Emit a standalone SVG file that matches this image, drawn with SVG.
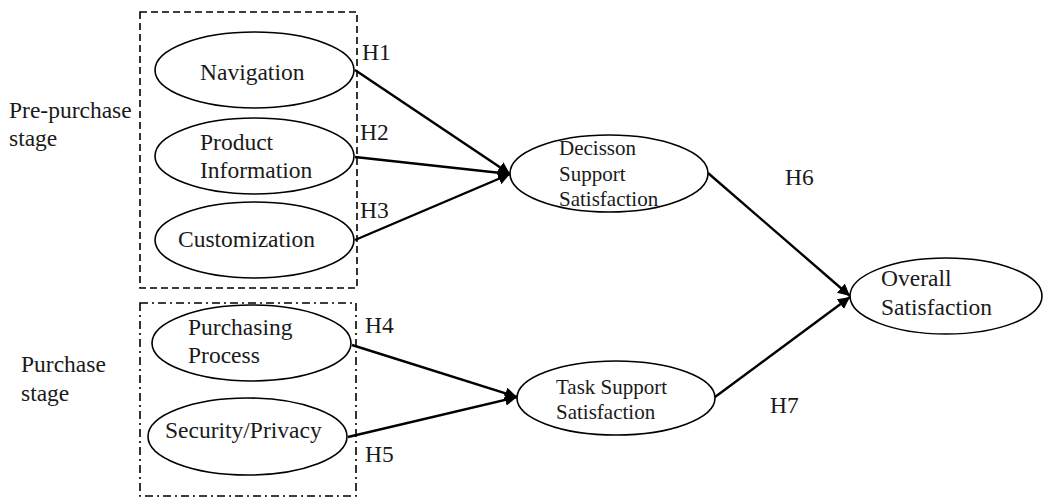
<svg xmlns="http://www.w3.org/2000/svg" width="1043" height="499" viewBox="0 0 1043 499">
  <style>
    .node ellipse { fill: #fff; stroke: #000; stroke-width: 1.6; }
    text { font-family: 'Liberation Serif', 'DejaVu Serif', serif; fill: #1a1a1a; }
    .t { font-size: 23.5px; }
    .s { font-size: 21px; }
    .edge { stroke: #000; stroke-width: 2.4; fill: none; marker-end: url(#arrow); }
    .stage { fill: none; stroke: #000; stroke-width: 1.6; }
  </style>
  <defs>
    <marker id="arrow" viewBox="0 0 10 10" refX="10" refY="5" markerWidth="5" markerHeight="5" orient="auto" markerUnits="strokeWidth">
      <path d="M0,0 L10,5 L0,10 z" fill="#000"/>
    </marker>
  </defs>
  <rect width="1043" height="499" fill="#fff"/>

  <!-- stage frames -->
  <g id="pre-purchase-stage">
    <rect class="stage" x="140" y="12" width="217" height="276" stroke-dasharray="7,4"/>
    <text class="t" x="9" y="118">Pre-purchase</text>
    <text class="t" x="9" y="146">stage</text>
  </g>
  <g id="purchase-stage">
    <rect class="stage" x="140" y="303" width="216" height="193" stroke-dasharray="8,4,2,4"/>
    <text class="t" x="21" y="372">Purchase</text>
    <text class="t" x="21" y="401">stage</text>
  </g>

  <!-- connectors -->
  <g id="connectors">
    <line class="edge" x1="355" y1="70" x2="510" y2="174"/>
    <line class="edge" x1="355" y1="157" x2="510" y2="174"/>
    <line class="edge" x1="355" y1="240" x2="510" y2="174"/>
    <line class="edge" x1="352" y1="345" x2="517" y2="397"/>
    <line class="edge" x1="348" y1="437" x2="517" y2="397"/>
    <line class="edge" x1="708" y1="173" x2="850" y2="296"/>
    <line class="edge" x1="715" y1="397" x2="850" y2="297"/>
    <text class="t" x="362" y="60">H1</text>
    <text class="t" x="360" y="140">H2</text>
    <text class="t" x="360" y="218">H3</text>
    <text class="t" x="365" y="333">H4</text>
    <text class="t" x="365" y="462">H5</text>
    <text class="t" x="785" y="185">H6</text>
    <text class="t" x="770" y="413">H7</text>
  </g>

  <!-- constructs -->
  <g id="navigation" class="node">
    <ellipse cx="254.5" cy="70" rx="99.5" ry="38"/>
    <text class="t" x="200" y="80">Navigation</text>
  </g>
  <g id="product-information" class="node">
    <ellipse cx="254.5" cy="156" rx="99.5" ry="38"/>
    <text class="t" x="200" y="150">Product</text>
    <text class="t" x="200" y="178">Information</text>
  </g>
  <g id="customization" class="node">
    <ellipse cx="254.5" cy="240" rx="99.5" ry="38"/>
    <text class="t" x="178" y="247">Customization</text>
  </g>
  <g id="purchasing-process" class="node">
    <ellipse cx="251.5" cy="343" rx="99.5" ry="38"/>
    <text class="t" x="188" y="335">Purchasing</text>
    <text class="t" x="188" y="363">Process</text>
  </g>
  <g id="security-privacy" class="node">
    <ellipse cx="247.5" cy="436.5" rx="99.5" ry="38.5"/>
    <text class="t" x="165" y="438">Security/Privacy</text>
  </g>
  <g id="decision-support-satisfaction" class="node">
    <ellipse cx="609" cy="173.5" rx="99" ry="38.5"/>
    <text class="s" x="559" y="155">Decisson</text>
    <text class="s" x="559" y="181">Support</text>
    <text class="s" x="559" y="206">Satisfaction</text>
  </g>
  <g id="task-support-satisfaction" class="node">
    <ellipse cx="616" cy="398" rx="99" ry="37"/>
    <text class="s" x="556" y="394">Task Support</text>
    <text class="s" x="556" y="419">Satisfaction</text>
  </g>
  <g id="overall-satisfaction" class="node">
    <ellipse cx="946" cy="296" rx="96" ry="38"/>
    <text class="t" x="881" y="286">Overall</text>
    <text class="t" x="881" y="315">Satisfaction</text>
  </g>
</svg>
